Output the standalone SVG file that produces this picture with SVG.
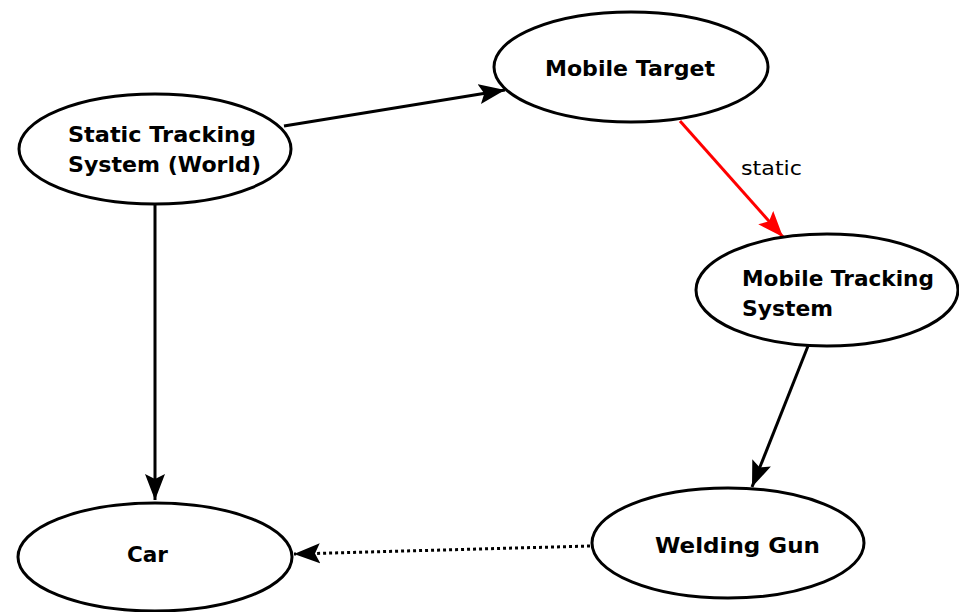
<svg xmlns="http://www.w3.org/2000/svg" width="959" height="612" viewBox="0 0 959 612">
<style>
.node{fill:#fff;stroke:#000;stroke-width:3}
.lbl{font-family:"DejaVu Sans",sans-serif;font-weight:bold;font-size:21px;fill:#000}
.edge{fill:none;stroke:#000;stroke-width:3}
.elbl{font-family:"DejaVu Sans",sans-serif;font-size:19px;fill:#000}
</style>
<defs>
<marker id="ah" viewBox="-26 -11 28 22" refX="0" refY="0" markerWidth="28" markerHeight="22" markerUnits="userSpaceOnUse" orient="auto">
<path d="M0,0 L-26,-10 L-21,0 L-26,10 Z" fill="#000"/>
</marker>
<marker id="ahr" viewBox="-26 -11 28 22" refX="0" refY="0" markerWidth="28" markerHeight="22" markerUnits="userSpaceOnUse" orient="auto">
<path d="M0,0 L-26,-10 L-21,0 L-26,10 Z" fill="#f00"/>
</marker>
</defs>
<rect width="959" height="612" fill="#fff"/>
<g id="edges">
<line class="edge" x1="284" y1="126" x2="505" y2="90" marker-end="url(#ah)"/>
<line class="edge" x1="680" y1="121" x2="783" y2="237" style="stroke:#f00" marker-end="url(#ahr)"/>
<text class="elbl" x="741" y="175" textLength="61" lengthAdjust="spacingAndGlyphs">static</text>
<line class="edge" x1="155" y1="205" x2="155" y2="500" marker-end="url(#ah)"/>
<line class="edge" x1="808" y1="346" x2="752" y2="487" marker-end="url(#ah)"/>
<line class="edge" x1="590" y1="546" x2="294" y2="554" stroke-dasharray="3,3" marker-end="url(#ah)"/>
</g>
<g id="static-tracking">
<ellipse class="node" cx="155" cy="149" rx="136" ry="55"/>
<text class="lbl" x="68" y="142" textLength="188" lengthAdjust="spacingAndGlyphs">Static Tracking</text>
<text class="lbl" x="68" y="172" textLength="193" lengthAdjust="spacingAndGlyphs">System (World)</text>
</g>
<g id="mobile-target">
<ellipse class="node" cx="631" cy="67" rx="137" ry="55"/>
<text class="lbl" x="545" y="76" textLength="170" lengthAdjust="spacingAndGlyphs">Mobile Target</text>
</g>
<g id="mobile-tracking">
<ellipse class="node" cx="827" cy="290" rx="131" ry="56"/>
<text class="lbl" x="742" y="286" textLength="192" lengthAdjust="spacingAndGlyphs">Mobile Tracking</text>
<text class="lbl" x="742" y="316" textLength="91" lengthAdjust="spacingAndGlyphs">System</text>
</g>
<g id="welding-gun">
<ellipse class="node" cx="728" cy="543" rx="136" ry="55"/>
<text class="lbl" x="655" y="553" textLength="165" lengthAdjust="spacingAndGlyphs">Welding Gun</text>
</g>
<g id="car">
<ellipse class="node" cx="155" cy="557" rx="137" ry="54"/>
<text class="lbl" x="127" y="562" textLength="41" lengthAdjust="spacingAndGlyphs">Car</text>
</g>
</svg>
